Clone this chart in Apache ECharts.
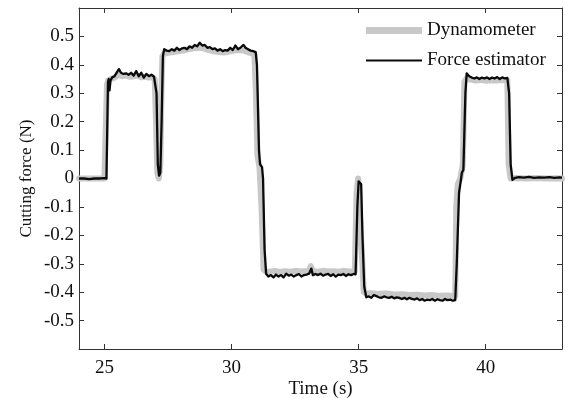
<!DOCTYPE html>
<html>
<head>
<meta charset="utf-8">
<script src="https://cdn.jsdelivr.net/npm/echarts@6/dist/echarts.min.js"></script>
<style>
html,body{margin:0;padding:0;background:#fff;}
#chart{width:565px;height:398px;}
</style>
</head>
<body>
<div id="chart"></div>
<script>
// ---- Data ----
var xTicks = [25, 30, 35, 40];
var yTicks = [-0.5, -0.4, -0.3, -0.2, -0.1, 0, 0.1, 0.2, 0.3, 0.4, 0.5];

// Force estimator (black)
var estTime = [
  24.0, 24.2, 24.4, 24.6, 24.8, 25.0, 25.08, 25.14, 25.17, 25.2, 25.24, 25.3, 25.4, 25.5, 25.57,
  25.65, 25.75, 25.85, 25.95, 26.05, 26.15, 26.25, 26.35, 26.45, 26.55, 26.65, 26.75, 26.85, 26.95,
  27.0, 27.05, 27.1, 27.15, 27.2, 27.25, 27.3, 27.35, 27.45, 27.55, 27.65, 27.75, 27.85, 27.95,
  28.05, 28.15, 28.25, 28.35, 28.45, 28.55, 28.65, 28.75, 28.85, 28.95, 29.05, 29.15, 29.25, 29.35,
  29.45, 29.55, 29.65, 29.75, 29.85, 29.95, 30.05, 30.15, 30.25, 30.35, 30.47, 30.55, 30.65, 30.75,
  30.85, 30.95, 31.0, 31.08, 31.12, 31.2, 31.24, 31.3, 31.36, 31.45, 31.55, 31.65, 31.75, 31.85,
  31.95, 32.05, 32.15, 32.25, 32.35, 32.45, 32.55, 32.65, 32.75, 32.85, 32.95, 33.05, 33.14, 33.2,
  33.3, 33.4, 33.5, 33.6, 33.7, 33.8, 33.9, 34.0, 34.1, 34.2, 34.3, 34.4, 34.5, 34.6, 34.7, 34.8,
  34.88, 34.95, 35.0, 35.05, 35.1, 35.15, 35.22, 35.3, 35.4, 35.5, 35.6, 35.7, 35.8, 35.9, 36.0,
  36.1, 36.2, 36.3, 36.4, 36.5, 36.6, 36.7, 36.8, 36.9, 37.0, 37.1, 37.2, 37.3, 37.4, 37.5, 37.6,
  37.7, 37.8, 37.9, 38.0, 38.1, 38.2, 38.3, 38.4, 38.5, 38.6, 38.7, 38.8, 38.86, 38.95, 39.0, 39.06,
  39.12, 39.2, 39.25, 39.3, 39.35, 39.45, 39.55, 39.65, 39.75, 39.85, 39.95, 40.05, 40.15, 40.25,
  40.35, 40.45, 40.55, 40.65, 40.75, 40.85, 40.92, 40.98, 41.05, 41.15, 41.3, 41.5, 41.7, 41.9,
  42.1, 42.3, 42.5, 42.7, 42.9, 43.0
];
var estForce = [
  0.0, 0.0, -0.002, 0.0, 0.0, 0.001, 0.0, 0.34, 0.35, 0.31, 0.345, 0.355, 0.36, 0.375, 0.385,
  0.372, 0.368, 0.37, 0.365, 0.372, 0.362, 0.378, 0.36, 0.372, 0.355, 0.368, 0.36, 0.365, 0.358,
  0.365, 0.3, 0.05, 0.01, 0.02, 0.2, 0.43, 0.455, 0.45, 0.448, 0.455, 0.45, 0.46, 0.452,
  0.458, 0.46, 0.455, 0.465, 0.46, 0.47, 0.465, 0.478, 0.468, 0.47, 0.46, 0.462, 0.455, 0.458,
  0.45, 0.455, 0.448, 0.452, 0.45, 0.46, 0.452, 0.468, 0.455, 0.46, 0.47, 0.46, 0.455, 0.45,
  0.448, 0.445, 0.4, 0.1, 0.05, 0.04, 0.0, -0.25, -0.335, -0.345, -0.34, -0.348, -0.338, -0.345,
  -0.34, -0.348, -0.335, -0.342, -0.338, -0.345, -0.34, -0.336, -0.345, -0.34, -0.338, -0.335, -0.317, -0.34,
  -0.336, -0.34, -0.335, -0.342, -0.338, -0.336, -0.343, -0.337, -0.345, -0.338, -0.34, -0.336, -0.343, -0.337, -0.34, -0.336,
  -0.337, -0.1, -0.01, -0.005, -0.02, -0.2, -0.38, -0.418, -0.415, -0.42, -0.41, -0.414, -0.418, -0.42, -0.415,
  -0.418, -0.42, -0.416, -0.422, -0.418, -0.42, -0.424, -0.42, -0.425, -0.42, -0.424, -0.426, -0.422, -0.428, -0.424, -0.43,
  -0.426, -0.428, -0.424, -0.43, -0.425, -0.428, -0.43, -0.424, -0.428, -0.426, -0.43, -0.428, -0.3, -0.05, -0.02, 0.02,
  0.03, 0.3, 0.37, 0.372, 0.36, 0.355, 0.352, 0.356, 0.35, 0.355, 0.352, 0.356, 0.35, 0.355,
  0.352, 0.357, 0.35, 0.356, 0.352, 0.354, 0.3, 0.05, -0.005, 0.002, 0.005, 0.003, 0.006, 0.002,
  0.004, 0.003, 0.005, 0.002, 0.004, 0.003
];

// Dynamometer (gray)
var dynTime = [
  24.0, 24.5, 25.0, 25.04, 25.1, 25.15, 25.25, 25.4, 25.55, 25.7, 25.85, 26.0, 26.15, 26.3, 26.45,
  26.6, 26.75, 26.9, 26.98, 27.03, 27.08, 27.14, 27.2, 27.24, 27.28, 27.35, 27.5, 27.7, 27.9, 28.1,
  28.3, 28.5, 28.7, 28.9, 29.1, 29.3, 29.5, 29.7, 29.9, 30.1, 30.3, 30.5, 30.7, 30.9, 30.96,
  31.02, 31.1, 31.18, 31.26, 31.35, 31.5, 31.7, 31.9, 32.1, 32.3, 32.5, 32.7, 32.9, 33.05, 33.12,
  33.2, 33.4, 33.6, 33.8, 34.0, 34.2, 34.4, 34.6, 34.85, 34.92, 34.98, 35.05, 35.12, 35.2, 35.3,
  35.5, 35.8, 36.1, 36.4, 36.7, 37.0, 37.3, 37.6, 37.9, 38.2, 38.5, 38.8, 38.84, 38.9, 39.0,
  39.1, 39.16, 39.25, 39.4, 39.6, 39.8, 40.0, 40.2, 40.4, 40.6, 40.85, 40.9, 40.98, 41.2, 41.6,
  42.0, 42.4, 42.8, 43.0
];
var dynForce = [
  0.0, 0.0, 0.0, 0.0, 0.33, 0.345, 0.35, 0.355, 0.365, 0.36, 0.362, 0.358, 0.36, 0.362, 0.356,
  0.358, 0.355, 0.356, 0.35, 0.2, 0.02, 0.0, 0.05, 0.3, 0.43, 0.44, 0.442, 0.445, 0.448, 0.45,
  0.455, 0.458, 0.46, 0.458, 0.452, 0.448, 0.445, 0.443, 0.447, 0.45, 0.452, 0.45, 0.443, 0.438, 0.3,
  0.08, 0.04, -0.1, -0.32, -0.327, -0.328, -0.325, -0.329, -0.326, -0.328, -0.325, -0.327, -0.326, -0.325, -0.308,
  -0.326, -0.328, -0.325, -0.327, -0.326, -0.328, -0.325, -0.327, -0.326, -0.05, 0.0, 0.0, -0.25, -0.4, -0.405,
  -0.404, -0.406, -0.405, -0.408, -0.407, -0.41, -0.409, -0.412, -0.41, -0.413, -0.412, -0.414, -0.1, -0.02, 0.0,
  0.05, 0.34, 0.352, 0.348, 0.345, 0.347, 0.344, 0.346, 0.345, 0.347, 0.345, 0.05, 0.0, 0.002, 0.0,
  0.002, 0.0, 0.001, 0.0
];

function pairs(t, v) { return t.map(function (x, i) { return [x, v[i]]; }); }

var font = 'Liberation Serif, Times New Roman, serif';
var axisColor = '#333';
var dynColor = '#c8c8c8';
var estColor = '#0a0a0a';

var chart = echarts.init(document.getElementById('chart'), null, { renderer: 'canvas' });
chart.setOption({
  animation: false,
  backgroundColor: '#fff',
  grid: { left: 79, right: 3, top: 8, bottom: 49, containLabel: false, outerBoundsMode: 'none' },
  legend: {
    orient: 'vertical',
    left: 366,
    top: 21,
    padding: 0,
    itemWidth: 56,
    itemHeight: 14,
    itemGap: 11,
    itemStyle: { borderWidth: 0 },
    textStyle: { fontFamily: font, fontSize: 19, color: '#111' },
    data: [
      { name: 'Dynamometer', icon: 'path://M0,0H56V7H0Z' },
      { name: 'Force estimator', icon: 'path://M0,0H56V2H0Z' }
    ]
  },
  xAxis: [{
    type: 'value', min: 24, max: 43, position: 'bottom',
    name: 'Time (s)', nameLocation: 'middle', nameGap: 31, nameMoveOverlap: false,
    nameTextStyle: { fontFamily: font, fontSize: 19, color: '#111' },
    axisLine: { show: true, onZero: false, lineStyle: { color: axisColor, width: 1 } },
    axisTick: { show: true, inside: true, length: 5, customValues: xTicks, lineStyle: { color: axisColor } },
    axisLabel: { show: true, customValues: xTicks, fontFamily: font, fontSize: 19, color: '#111', margin: 10 },
    splitLine: { show: false }
  }, {
    type: 'value', min: 24, max: 43, position: 'top',
    axisLine: { show: true, onZero: false, lineStyle: { color: axisColor, width: 1 } },
    axisTick: { show: true, inside: true, length: 5, customValues: xTicks, lineStyle: { color: axisColor } },
    axisLabel: { show: false },
    splitLine: { show: false }
  }],
  yAxis: [{
    type: 'value', min: -0.6, max: 0.6, position: 'left',
    name: 'Cutting force (N)', nameLocation: 'middle', nameGap: 44, nameRotate: 90, nameMoveOverlap: false,
    nameTextStyle: { fontFamily: font, fontSize: 17, color: '#111' },
    axisLine: { show: true, onZero: false, lineStyle: { color: axisColor, width: 1 } },
    axisTick: { show: true, inside: true, length: 5, customValues: yTicks, lineStyle: { color: axisColor } },
    axisLabel: { show: true, customValues: yTicks, fontFamily: font, fontSize: 19, color: '#111', margin: 5 },
    splitLine: { show: false }
  }, {
    type: 'value', min: -0.6, max: 0.6, position: 'right',
    axisLine: { show: true, onZero: false, lineStyle: { color: axisColor, width: 1 } },
    axisTick: { show: true, inside: true, length: 5, customValues: yTicks, lineStyle: { color: axisColor } },
    axisLabel: { show: false },
    splitLine: { show: false }
  }],
  series: [{
    name: 'Dynamometer', type: 'line', xAxisIndex: 0, yAxisIndex: 0,
    data: pairs(dynTime, dynForce),
    symbol: 'none', showSymbol: false,
    lineStyle: { color: dynColor, width: 6, join: 'round', cap: 'round' },
    itemStyle: { color: dynColor },
    z: 2
  }, {
    name: 'Force estimator', type: 'line', xAxisIndex: 0, yAxisIndex: 0,
    data: pairs(estTime, estForce),
    symbol: 'none', showSymbol: false,
    lineStyle: { color: estColor, width: 2.3, join: 'round' },
    itemStyle: { color: estColor },
    z: 3
  }]
});
</script>
</body>
</html>
